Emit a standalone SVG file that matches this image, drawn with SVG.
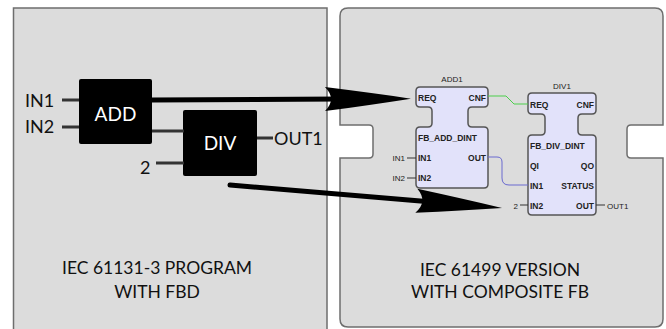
<svg xmlns="http://www.w3.org/2000/svg" width="666" height="329" viewBox="0 0 666 329">
<style>
.panel{fill:#dcdcdc;stroke:#6e6e6e;stroke-width:1.5}
.blk{fill:#000;rx:2}
.wire{stroke:#333;stroke-width:3;fill:none}
.big{font-family:Lato,"Liberation Sans",sans-serif;fill:#111}
.blkt{font-family:Lato,"Liberation Sans",sans-serif;fill:#fff;font-size:19px}
.fb{fill:#e2e2fa;stroke:#555;stroke-width:1.5}
.s{font-family:"Liberation Sans",Arial,sans-serif;font-size:8.5px;font-weight:bold;fill:#222}
.n{font-family:"Liberation Sans",Arial,sans-serif;font-size:8px;fill:#222}
.thin{stroke:#333;stroke-width:1;fill:none}
.arrow{stroke:#000;stroke-width:5;stroke-linecap:round;fill:none;marker-end:url(#head)}
</style>
<defs>
<marker id="head" markerUnits="userSpaceOnUse" markerWidth="100" markerHeight="30" viewBox="-20 -15 100 30" refX="0" refY="0" orient="auto" overflow="visible">
<path d="M70 0 Q30 -6 -16 -12 Q-4 0 -16 12 Q30 6 70 0 Z" fill="#000"/>
</marker>
</defs>
<rect class="panel" x="13.5" y="8" width="313.5" height="340"/>
<path class="panel" d="M348 8 H655 Q663 8 663 16 V125 H631 Q627 125 627 129 V154 Q627 158 631 158 H663 V319 Q663 327 655 327 H348 Q340 327 340 319 V158 H369 Q373 158 373 154 V129 Q373 125 369 125 H340 V16 Q340 8 348 8 Z"/>
<g id="left-fbd">
<g id="in1"><text class="big" x="25" y="107" font-size="18">IN1</text><line class="wire" x1="62" y1="100" x2="80" y2="100"/></g>
<g id="in2"><text class="big" x="25" y="133" font-size="18">IN2</text><line class="wire" x1="62" y1="127" x2="80" y2="127"/></g>
<g id="add"><rect class="blk" x="79" y="79" width="73" height="65"/><text class="blkt" x="115.5" y="121" text-anchor="middle">ADD</text></g>
<g id="div"><rect class="blk" x="183" y="110" width="74" height="66"/><text class="blkt" x="220" y="150" text-anchor="middle">DIV</text></g>
<line class="wire" x1="152" y1="131" x2="184" y2="131"/>
<g id="const2"><text class="big" x="140" y="174" font-size="18">2</text><line class="wire" x1="156" y1="163" x2="184" y2="163"/></g>
<g id="out1"><line class="wire" x1="257" y1="138" x2="273" y2="138"/><text class="big" x="274" y="145" font-size="18">OUT1</text></g>
<text class="big" x="157" y="274" font-size="17.5" text-anchor="middle">IEC 61131-3 PROGRAM</text>
<text class="big" x="157" y="298" font-size="17.5" text-anchor="middle">WITH FBD</text>
</g>
<g id="add1">
<path class="fb" d="M420 87 H484 Q488 87 488 91 V103 Q488 107 484 107 H472 Q468 107 468 111 V123 Q468 127 472 127 H484 Q488 127 488 131 V184 Q488 188 484 188 H420 Q416 188 416 184 V131 Q416 127 420 127 H428 Q432 127 432 123 V111 Q432 107 428 107 H420 Q416 107 416 103 V91 Q416 87 420 87 Z"/>
<text class="n" x="452" y="82" text-anchor="middle">ADD1</text>
<text class="s" x="418" y="101">REQ</text><text class="s" x="486" y="101" text-anchor="end">CNF</text>
<text class="s" x="418" y="141">FB_ADD_DINT</text>
<text class="s" x="418" y="161">IN1</text><text class="s" x="486" y="161" text-anchor="end">OUT</text>
<text class="s" x="418" y="181">IN2</text>
<text class="n" x="405" y="161" text-anchor="end">IN1</text><line class="thin" x1="407" y1="158" x2="416" y2="158"/>
<text class="n" x="405" y="181" text-anchor="end">IN2</text><line class="thin" x1="407" y1="178" x2="416" y2="178"/>
</g>
<g id="div1">
<path class="fb" d="M532 93 H592 Q596 93 596 97 V110 Q596 114 592 114 H582 Q578 114 578 118 V131 Q578 135 582 135 H592 Q596 135 596 139 V211 Q596 215 592 215 H532 Q528 215 528 211 V139 Q528 135 532 135 H541 Q545 135 545 131 V118 Q545 114 541 114 H532 Q528 114 528 110 V97 Q528 93 532 93 Z"/>
<text class="n" x="562" y="89" text-anchor="middle">DIV1</text>
<text class="s" x="530" y="108">REQ</text><text class="s" x="594" y="108" text-anchor="end">CNF</text>
<text class="s" x="530" y="149">FB_DIV_DINT</text>
<text class="s" x="530" y="169">QI</text><text class="s" x="594" y="169" text-anchor="end">QO</text>
<text class="s" x="530" y="189">IN1</text><text class="s" x="594" y="189" text-anchor="end">STATUS</text>
<text class="s" x="530" y="209">IN2</text><text class="s" x="594" y="209" text-anchor="end">OUT</text>
<text class="n" x="518" y="209" text-anchor="end">2</text><line class="thin" x1="520" y1="205" x2="528" y2="205"/>
<line class="thin" x1="596" y1="205" x2="605" y2="205"/><text class="n" x="607" y="209">OUT1</text>
</g>
<text class="big" x="500" y="276" font-size="17.5" text-anchor="middle">IEC 61499 VERSION</text>
<text class="big" x="500" y="298" font-size="17.5" text-anchor="middle">WITH COMPOSITE FB</text>
<g id="connectors">
<path d="M488 96 H506 L514 104 H528" stroke="#4ccf4c" stroke-width="1" fill="none"/>
<path d="M488 157 H497 Q502 157 502 162 V178 Q502 185 509 185 H528" stroke="#6a6ad0" stroke-width="1" fill="none"/>
<line class="arrow" x1="152" y1="100" x2="341" y2="99"/>
<line class="arrow" x1="230" y1="185" x2="432.3" y2="202.1"/>
</g>
</svg>
